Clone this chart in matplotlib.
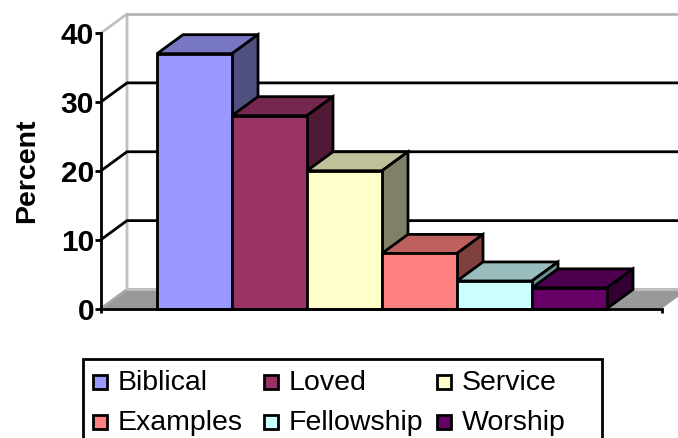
import matplotlib
matplotlib.use('Agg')
import matplotlib.pyplot as plt
from matplotlib.patches import Rectangle

plt.rcParams['font.family'] = ['Liberation Sans', 'DejaVu Sans']

categorias = ['Biblical', 'Loved', 'Service', 'Examples', 'Fellowship', 'Worship']
valores = [37, 28, 20, 8, 4, 3]
cores = ['#9999FF', '#993366', '#FFFFCC', '#FF8080', '#CCFFFF', '#660066']
cores_topo = ['#7777C4', '#75274E', '#C0C09A', '#BF6060', '#99BDBD', '#4D004D']
cores_lado = ['#505080', '#4F1A35', '#808066', '#804040', '#6C9090', '#330033']
ticks_y = [0, 10, 20, 30, 40]

W, H = 678, 438
lw = 2.0
fs = 20.5

# profundidade do efeito 3D, em unidades de dados
dx = 26 / 75
dy = 19 / 6.89
x_fim = 561 / 75
x_ini = 56 / 75

fig = plt.figure(figsize=(W / 100, H / 100), dpi=100)
ax = fig.add_axes([101 / W, (H - 308.5) / H, 561 / W, 275.5 / H])
ax.set_xlim(0, x_fim)
ax.set_ylim(0, 40)

# ---------------- parede e chao ----------------
ax.fill([0, dx, x_fim + dx, x_fim], [0, dy, dy, 0], color='#999999', clip_on=False, zorder=1, lw=0)
ax.plot([0, dx, x_fim + dx], [0, dy, dy], color='#A6A6A6', lw=lw, clip_on=False, zorder=1)
ax.plot([0, dx, dx, x_fim + dx], [40, 40 + dy, dy, dy], color='#C0C0C0', lw=lw, clip_on=False, zorder=1)
ax.plot([dx, x_fim + dx], [40 + dy, 40 + dy], color='#B4B4B4', lw=lw, clip_on=False, zorder=1)
for t in ticks_y[1:-1]:
    ax.plot([0, dx, x_fim + dx], [t, t + dy, t + dy], color='black', lw=lw, clip_on=False, zorder=2)

# ---------------- barras ----------------
for i, v in enumerate(valores):
    x0 = x_ini + i
    x1 = x0 + 1
    z = 3 + i
    ax.fill([x0, x0 + dx, x1 + dx, x1], [v, v + dy, v + dy, v], facecolor=cores_topo[i],
            edgecolor='black', lw=lw, clip_on=False, zorder=z, joinstyle='miter')
    ax.fill([x1, x1 + dx, x1 + dx, x1], [0, dy, v + dy, v], facecolor=cores_lado[i],
            edgecolor='black', lw=lw, clip_on=False, zorder=z, joinstyle='miter')
    ax.bar(x0, v, width=1, align='edge', color=cores[i], edgecolor='black', lw=lw, clip_on=False, zorder=z)

# ---------------- eixos ----------------
for lado in ['top', 'right']:
    ax.spines[lado].set_visible(False)
for lado in ['left', 'bottom']:
    ax.spines[lado].set_linewidth(lw)
    ax.spines[lado].set_zorder(20)
ax.patch.set_visible(False)
ax.set_yticks(ticks_y)
ax.set_yticklabels([str(t) for t in ticks_y], fontsize=21.5, fontweight='bold')
ax.set_xticks([0, x_fim])
ax.set_xticklabels(['', ''])
ax.tick_params(axis='y', length=4, width=lw, pad=1)
ax.tick_params(axis='x', length=3, width=lw)
ax.set_ylabel('Percent', fontsize=fs, fontweight='bold', labelpad=15)

# ---------------- legenda ----------------
leg = fig.add_axes([0, 0, 1, 1], zorder=30)
leg.set_xlim(0, W)
leg.set_ylim(H, 0)
leg.axis('off')
leg.add_patch(Rectangle((83, 359), 519, 90, facecolor='white', edgecolor='black', lw=lw))
col_x = [93, 264, 437]
lin_y = [382, 422]
for i, nome in enumerate(categorias):
    x = col_x[i % 3]
    y = lin_y[i // 3]
    leg.add_patch(Rectangle((x, y - 7), 14, 14, facecolor=cores[i], edgecolor='black', lw=lw))
    leg.text(x + 25, y + 1, nome, fontsize=fs, va='center', ha='left', color='black')

fig.savefig('out.png', dpi=100)
